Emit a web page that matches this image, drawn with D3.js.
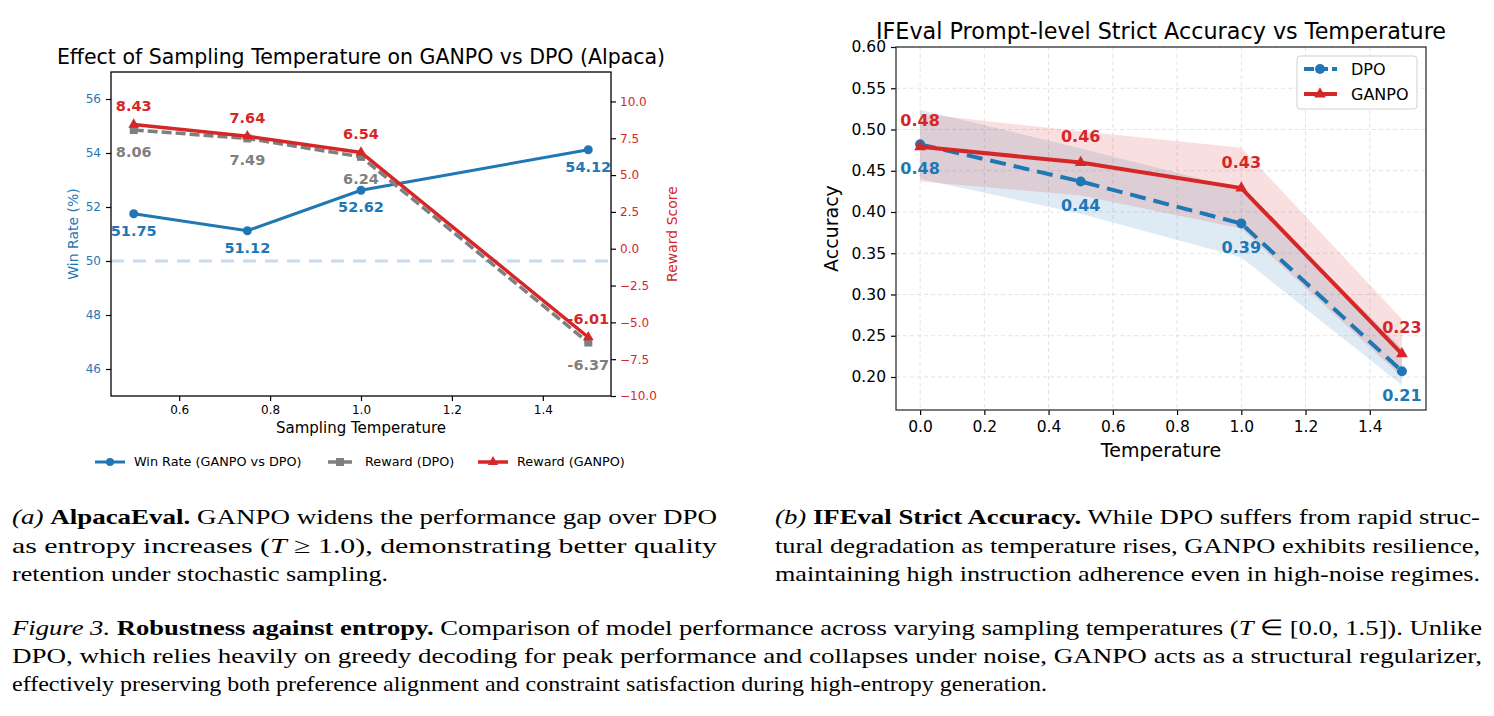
<!DOCTYPE html>
<html>
<head>
<meta charset="utf-8">
<script src="https://cdn.jsdelivr.net/npm/d3@7"></script>
<style>
  body { margin: 0; background: #fff; }
  svg { display: block; }
</style>
</head>
<body>
<div id="chart"></div>
<script>
// --- CONFIGURATION ---
const WIDTH = 1494;
const HEIGHT = 716;
const BLUE = "#1f77b4", RED = "#d62728", GRAY = "#7f7f7f";
const SANS = "DejaVu Sans, sans-serif";
const SERIF = "Liberation Serif, Times New Roman, serif";

// --- DATA: (a) AlpacaEval ---
const tempsA = [0.5, 0.75, 1.0, 1.5];
const winRate = [51.75, 51.12, 52.62, 54.12];
const rewardDPO = [8.06, 7.49, 6.24, -6.37];
const rewardGANPO = [8.43, 7.64, 6.54, -6.01];
const xTicksA = [0.6, 0.8, 1.0, 1.2, 1.4];
const winTicks = [46, 48, 50, 52, 54, 56];
const rewardTicks = [-10, -7.5, -5, -2.5, 0, 2.5, 5, 7.5, 10];

// --- DATA: (b) IFEval ---
const tempsB = [0.0, 0.5, 1.0, 1.5];
const accDPO = [0.482, 0.437, 0.386, 0.207];
const accGANPO = [0.479, 0.460, 0.429, 0.228];
const dpoLow = [0.440, 0.398, 0.345, 0.190];
const dpoHigh = [0.524, 0.477, 0.428, 0.235];
const ganpoLow = [0.437, 0.420, 0.380, 0.200];
const ganpoHigh = [0.519, 0.498, 0.478, 0.270];
const xTicksB = [0.0, 0.2, 0.4, 0.6, 0.8, 1.0, 1.2, 1.4];
const accTicks = [0.20, 0.25, 0.30, 0.35, 0.40, 0.45, 0.50, 0.55, 0.60];

const svg = d3.select("#chart")
    .append("svg")
    .attr("width", WIDTH)
    .attr("height", HEIGHT)
    .style("font-family", SANS);

// style an axis group the matplotlib way
function styleAxis(g, color, size) {
    g.select(".domain").remove();
    g.selectAll(".tick line").attr("stroke", "#000").attr("stroke-width", 1.2);
    g.selectAll(".tick text")
        .attr("fill", color)
        .attr("font-size", size)
        .attr("font-family", SANS);
}

// ================= (a) ALPACA =================
const A = { left: 111, right: 611, top: 72, bottom: 396 };
const xA = d3.scaleLinear().domain([0.45, 1.55]).range([A.left, A.right]);
const yWin = d3.scaleLinear().domain([45, 57]).range([A.bottom, A.top]);
const yRew = d3.scaleLinear().domain([-10, 12]).range([A.bottom, A.top]);

const gA = svg.append("g");

gA.append("g")
    .attr("transform", `translate(0,${A.bottom})`)
    .call(d3.axisBottom(xA).tickValues(xTicksA).tickFormat(d3.format(".1f")).tickSize(5).tickPadding(4))
    .call(g => styleAxis(g, "#000", "12px"));

gA.append("g")
    .attr("transform", `translate(${A.left},0)`)
    .call(d3.axisLeft(yWin).tickValues(winTicks).tickFormat(d3.format("d")).tickSize(5).tickPadding(5))
    .call(g => styleAxis(g, BLUE, "12px"));

gA.append("g")
    .attr("transform", `translate(${A.right},0)`)
    .call(d3.axisRight(yRew).tickValues(rewardTicks).tickFormat(d3.format(".1f")).tickSize(5).tickPadding(4))
    .call(g => styleAxis(g, RED, "12px"));

// 50% reference
gA.append("line")
    .attr("x1", A.left).attr("x2", A.right)
    .attr("y1", yWin(50)).attr("y2", yWin(50))
    .attr("stroke", "#c6dbef").attr("stroke-width", 3)
    .attr("stroke-dasharray", "13,9");

const lineWin = d3.line().x((d, i) => xA(tempsA[i])).y(d => yWin(d));
const lineRew = d3.line().x((d, i) => xA(tempsA[i])).y(d => yRew(d));

gA.append("path").datum(winRate).attr("d", lineWin)
    .attr("fill", "none").attr("stroke", BLUE).attr("stroke-width", 3);
gA.selectAll(".winpt").data(winRate).join("circle")
    .attr("cx", (d, i) => xA(tempsA[i])).attr("cy", d => yWin(d))
    .attr("r", 4.5).attr("fill", BLUE);

gA.append("path").datum(rewardDPO).attr("d", lineRew)
    .attr("fill", "none").attr("stroke", GRAY).attr("stroke-width", 3.5)
    .attr("stroke-dasharray", "10,4");
gA.selectAll(".dpopt").data(rewardDPO).join("rect")
    .attr("x", (d, i) => xA(tempsA[i]) - 4).attr("y", d => yRew(d) - 4)
    .attr("width", 8).attr("height", 8).attr("fill", GRAY);

gA.append("path").datum(rewardGANPO).attr("d", lineRew)
    .attr("fill", "none").attr("stroke", RED).attr("stroke-width", 3.5);
gA.selectAll(".ganpt").data(rewardGANPO).join("path")
    .attr("transform", (d, i) => `translate(${xA(tempsA[i])},${yRew(d)})`)
    .attr("d", d3.symbol(d3.symbolTriangle, 50))
    .attr("fill", RED);

// value labels
const lblA = (data, yS, dy, color, fmt) => gA.selectAll(null).data(data).join("text")
    .attr("x", (d, i) => xA(tempsA[i]))
    .attr("y", d => yS(d) + dy)
    .attr("text-anchor", "middle")
    .attr("dominant-baseline", "central")
    .attr("font-size", "14.5px").attr("font-weight", "bold")
    .attr("fill", color)
    .text(fmt);
lblA(winRate, yWin, 17, BLUE, d => d.toFixed(2));
lblA(rewardDPO, yRew, 22, GRAY, d => d.toFixed(2));
lblA(rewardGANPO, yRew, -18.5, RED, d => d.toFixed(2));

// frame
gA.append("rect")
    .attr("x", A.left).attr("y", A.top)
    .attr("width", A.right - A.left).attr("height", A.bottom - A.top)
    .attr("fill", "none").attr("stroke", "#000").attr("stroke-width", 1.3);

gA.append("text")
    .attr("x", (A.left + A.right) / 2).attr("y", 64)
    .attr("text-anchor", "middle").attr("font-size", "20.5px")
    .text("Effect of Sampling Temperature on GANPO vs DPO (Alpaca)");
gA.append("text")
    .attr("x", (A.left + A.right) / 2).attr("y", 433)
    .attr("text-anchor", "middle").attr("font-size", "15px")
    .text("Sampling Temperature");
gA.append("text")
    .attr("transform", `translate(78,${(A.top + A.bottom) / 2}) rotate(-90)`)
    .attr("text-anchor", "middle").attr("font-size", "14px").attr("fill", BLUE)
    .text("Win Rate (%)");
gA.append("text")
    .attr("transform", `translate(677,${(A.top + A.bottom) / 2}) rotate(-90)`)
    .attr("text-anchor", "middle").attr("font-size", "14px").attr("fill", RED)
    .text("Reward Score");

// legend below
const legA = gA.append("g").attr("transform", "translate(0,462)");
legA.append("line").attr("x1", 95).attr("x2", 125).attr("stroke", BLUE).attr("stroke-width", 3);
legA.append("circle").attr("cx", 110).attr("r", 4).attr("fill", BLUE);
legA.append("text").attr("x", 134).attr("dy", "0.35em").attr("font-size", "12.8px").text("Win Rate (GANPO vs DPO)");
legA.append("line").attr("x1", 328).attr("x2", 353).attr("stroke", GRAY).attr("stroke-width", 3.5).attr("stroke-dasharray", "10,4");
legA.append("rect").attr("x", 336).attr("y", -4).attr("width", 8).attr("height", 8).attr("fill", GRAY);
legA.append("text").attr("x", 365).attr("dy", "0.35em").attr("font-size", "12.8px").text("Reward (DPO)");
legA.append("line").attr("x1", 478).attr("x2", 508).attr("stroke", RED).attr("stroke-width", 3.5);
legA.append("path").attr("transform", "translate(493,0)").attr("d", d3.symbol(d3.symbolTriangle, 45)).attr("fill", RED);
legA.append("text").attr("x", 517).attr("dy", "0.35em").attr("font-size", "12.8px").text("Reward (GANPO)");

// ================= (b) IFEVAL =================
const B = { left: 896, right: 1426, top: 47, bottom: 410 };
const xB = d3.scaleLinear().domain([-0.075, 1.575]).range([B.left, B.right]);
const yAcc = d3.scaleLinear().domain([0.16, 0.60]).range([B.bottom, B.top]);

const gB = svg.append("g");

// grid
gB.selectAll(".vgrid").data(xTicksB).join("line")
    .attr("x1", d => xB(d)).attr("x2", d => xB(d))
    .attr("y1", B.top).attr("y2", B.bottom)
    .attr("stroke", "#e3e3e3").attr("stroke-width", 1).attr("stroke-dasharray", "4,3");
gB.selectAll(".hgrid").data(accTicks).join("line")
    .attr("x1", B.left).attr("x2", B.right)
    .attr("y1", d => yAcc(d)).attr("y2", d => yAcc(d))
    .attr("stroke", "#e3e3e3").attr("stroke-width", 1).attr("stroke-dasharray", "4,3");

gB.append("g")
    .attr("transform", `translate(0,${B.bottom})`)
    .call(d3.axisBottom(xB).tickValues(xTicksB).tickFormat(d3.format(".1f")).tickSize(5).tickPadding(6))
    .call(g => styleAxis(g, "#000", "15.5px"));
gB.append("g")
    .attr("transform", `translate(${B.left},0)`)
    .call(d3.axisLeft(yAcc).tickValues(accTicks).tickFormat(d3.format(".2f")).tickSize(5).tickPadding(5))
    .call(g => styleAxis(g, "#000", "15.5px"));

const band = (lo, hi) => d3.area()
    .x(i => xB(tempsB[i]))
    .y0(i => yAcc(lo[i]))
    .y1(i => yAcc(hi[i]));
gB.append("path").datum(d3.range(tempsB.length)).attr("d", band(dpoLow, dpoHigh))
    .attr("fill", BLUE).attr("fill-opacity", 0.15);
gB.append("path").datum(d3.range(tempsB.length)).attr("d", band(ganpoLow, ganpoHigh))
    .attr("fill", RED).attr("fill-opacity", 0.15);

const lineAcc = d3.line().x((d, i) => xB(tempsB[i])).y(d => yAcc(d));
gB.append("path").datum(accDPO).attr("d", lineAcc)
    .attr("fill", "none").attr("stroke", BLUE).attr("stroke-width", 4)
    .attr("stroke-dasharray", "16,8");
gB.selectAll(".dpoB").data(accDPO).join("circle")
    .attr("cx", (d, i) => xB(tempsB[i])).attr("cy", d => yAcc(d))
    .attr("r", 5).attr("fill", BLUE);
gB.append("path").datum(accGANPO).attr("d", lineAcc)
    .attr("fill", "none").attr("stroke", RED).attr("stroke-width", 4);
gB.selectAll(".ganB").data(accGANPO).join("path")
    .attr("transform", (d, i) => `translate(${xB(tempsB[i])},${yAcc(d)})`)
    .attr("d", d3.symbol(d3.symbolTriangle, 60))
    .attr("fill", RED);

const lblB = (data, dy, color) => gB.selectAll(null).data(data).join("text")
    .attr("x", (d, i) => xB(tempsB[i]))
    .attr("y", d => yAcc(d) + dy)
    .attr("text-anchor", "middle")
    .attr("dominant-baseline", "central")
    .attr("font-size", "16px").attr("font-weight", "bold")
    .attr("fill", color)
    .text(d => d.toFixed(2));
lblB(accDPO, 24, BLUE);
lblB(accGANPO, -26, RED);

gB.append("rect")
    .attr("x", B.left).attr("y", B.top)
    .attr("width", B.right - B.left).attr("height", B.bottom - B.top)
    .attr("fill", "none").attr("stroke", "#333").attr("stroke-width", 1.3);

gB.append("text")
    .attr("x", (B.left + B.right) / 2).attr("y", 39)
    .attr("text-anchor", "middle").attr("font-size", "22.3px")
    .text("IFEval Prompt-level Strict Accuracy vs Temperature");
gB.append("text")
    .attr("x", (B.left + B.right) / 2).attr("y", 457)
    .attr("text-anchor", "middle").attr("font-size", "19px")
    .text("Temperature");
gB.append("text")
    .attr("transform", `translate(838,${(B.top + B.bottom) / 2}) rotate(-90)`)
    .attr("text-anchor", "middle").attr("font-size", "19px")
    .text("Accuracy");

// legend
const legB = gB.append("g");
legB.append("rect").attr("x", 1297).attr("y", 56).attr("width", 120).attr("height", 53)
    .attr("rx", 3).attr("fill", "#fff").attr("fill-opacity", 0.8)
    .attr("stroke", "#d0d0d0");
legB.append("line").attr("x1", 1304).attr("x2", 1337).attr("y1", 69).attr("y2", 69)
    .attr("stroke", BLUE).attr("stroke-width", 4).attr("stroke-dasharray", "10,4");
legB.append("circle").attr("cx", 1320).attr("cy", 69).attr("r", 5).attr("fill", BLUE);
legB.append("text").attr("x", 1351).attr("y", 69).attr("dy", "0.35em").attr("font-size", "16px").text("DPO");
legB.append("line").attr("x1", 1304).attr("x2", 1337).attr("y1", 94).attr("y2", 94)
    .attr("stroke", RED).attr("stroke-width", 4);
legB.append("path").attr("transform", "translate(1320,94)").attr("d", d3.symbol(d3.symbolTriangle, 60)).attr("fill", RED);
legB.append("text").attr("x", 1351).attr("y", 94).attr("dy", "0.35em").attr("font-size", "16px").text("GANPO");

// ================= CAPTIONS =================
// each line: [x, baseline, width, [[text, style], ...]]
const captionLines = [
    [12, 524, 705, [["(a) ", "i"], ["AlpacaEval.", "b"], [" GANPO widens the performance gap over DPO", ""]]],
    [12, 553, 705, [["as entropy increases (", ""], ["T", "i"], [" \u2265 1.0), demonstrating better quality", ""]]],
    [12, 581, 376, [["retention under stochastic sampling.", ""]]],
    [775, 524, 705, [["(b) ", "i"], ["IFEval Strict Accuracy.", "b"], [" While DPO suffers from rapid struc-", ""]]],
    [775, 553, 705, [["tural degradation as temperature rises, GANPO exhibits resilience,", ""]]],
    [775, 581, 705, [["maintaining high instruction adherence even in high-noise regimes.", ""]]],
    [12, 635, 1470, [["Figure 3.", "i"], [" ", ""], ["Robustness against entropy.", "b"], [" Comparison of model performance across varying sampling temperatures (", ""], ["T", "i"], [" \u2208 [0.0, 1.5]). Unlike", ""]]],
    [12, 663, 1470, [["DPO, which relies heavily on greedy decoding for peak performance and collapses under noise, GANPO acts as a structural regularizer,", ""]]],
    [12, 691, 1035, [["effectively preserving both preference alignment and constraint satisfaction during high-entropy generation.", ""]]]
];

const cap = svg.append("g").attr("font-family", SERIF).attr("font-size", "22px").attr("fill", "#000");
captionLines.forEach(([x, y, w, parts]) => {
    const t = cap.append("text")
        .attr("x", x).attr("y", y)
        .attr("textLength", w).attr("lengthAdjust", "spacingAndGlyphs")
        .style("white-space", "pre");
    parts.forEach(([s, st]) => {
        t.append("tspan")
            .attr("font-style", st === "i" ? "italic" : null)
            .attr("font-weight", st === "b" ? "bold" : null)
            .text(s);
    });
});
</script>
</body>
</html>
